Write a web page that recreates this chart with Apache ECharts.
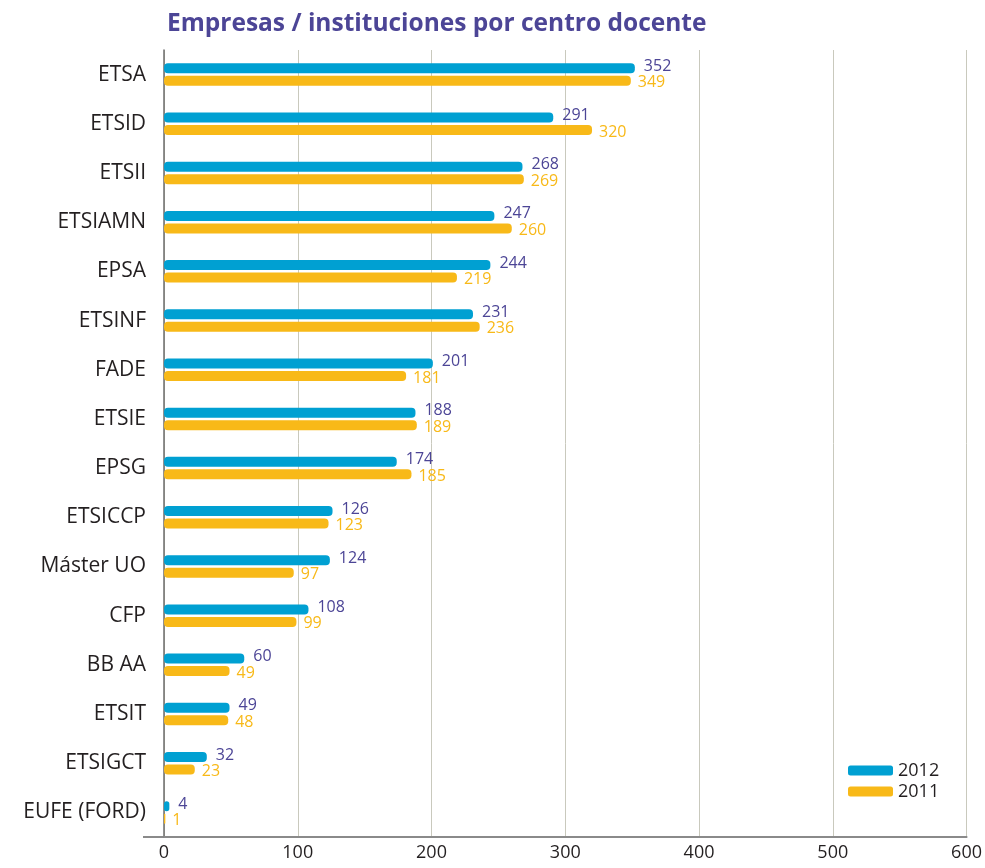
<!DOCTYPE html>
<html>
<head>
<meta charset="utf-8">
<script src="https://cdn.jsdelivr.net/npm/echarts@6/dist/echarts.min.js"></script>
<style>
html,body{margin:0;padding:0;background:#fff;}
#chart{width:985px;height:868px;}
</style>
</head>
<body>
<div id="chart"></div>
<script>
const categories = ['ETSA','ETSID','ETSII','ETSIAMN','EPSA','ETSINF','FADE','ETSIE','EPSG','ETSICCP','Máster UO','CFP','BB AA','ETSIT','ETSIGCT','EUFE (FORD)'];
const values2012 = [352,291,268,247,244,231,201,188,174,126,124,108,60,49,32,4];
const values2011 = [349,320,269,260,219,236,181,189,185,123,97,99,49,48,23,1];
const xTicks = [0,100,200,300,400,500,600];

const FONT = '"Open Sans", "Noto Sans", sans-serif';
const PURPLE = '#4c4596';
const BLUE = '#00a0d2';
const YELLOW = '#f8b918';

const chart = echarts.init(document.getElementById('chart'));
chart.setOption({
  backgroundColor: '#fff',
  animation: false,
  title: {
    text: 'Empresas / instituciones por centro docente',
    left: 162, top: 7,
    textStyle: {color: PURPLE, fontSize: 24.5, fontWeight: 'bold', fontFamily: FONT}
  },
  legend: {
    orient: 'vertical',
    left: 843, top: 755,
    itemWidth: 45, itemHeight: 10, itemGap: 0,
    icon: 'roundRect',
    textStyle: {color: '#231f20', fontSize: 18, fontFamily: FONT, padding: [0,0,0,0], lineHeight: 21},
    data: ['2012','2011']
  },
  grid: {left: 164, right: 15, top: 50, bottom: 31, containLabel: false},
  xAxis: {
    type: 'value', min: xTicks[0], max: xTicks[xTicks.length-1], interval: 100,
    axisLine: {show: true, lineStyle: {color: '#8a8a8a', width: 2}},
    axisTick: {show: false},
    axisLabel: {color: '#231f20', fontSize: 18, fontFamily: FONT, margin: 7},
    splitLine: {show: true, lineStyle: {color: '#c9c9bd', width: 1}}
  },
  yAxis: {
    type: 'category', data: categories, inverse: true,
    axisLine: {show: true, lineStyle: {color: '#6d6d6d', width: 1.5}},
    axisTick: {show: false},
    axisLabel: {color: '#231f20', fontSize: 21, fontFamily: FONT, margin: 18}
  },
  graphic: [{
    type: 'line', silent: true, z: 0,
    shape: {x1: 143, y1: 837, x2: 164, y2: 837},
    style: {stroke: '#8a8a8a', lineWidth: 2}
  }],
  series: [
    {
      name: '2012', type: 'bar', data: values2012,
      barWidth: 10, barGap: '25%',
      itemStyle: {color: BLUE, borderRadius: 4},
      label: {show: true, position: 'right', distance: 9, offset: [0,-2], color: PURPLE, fontSize: 16, fontFamily: FONT}
    },
    {
      name: '2011', type: 'bar', data: values2011,
      barWidth: 10,
      itemStyle: {color: YELLOW, borderRadius: 4},
      label: {show: true, position: 'right', distance: 7, offset: [0,2], color: YELLOW, fontSize: 16, fontFamily: FONT}
    }
  ]
});
</script>
</body>
</html>
